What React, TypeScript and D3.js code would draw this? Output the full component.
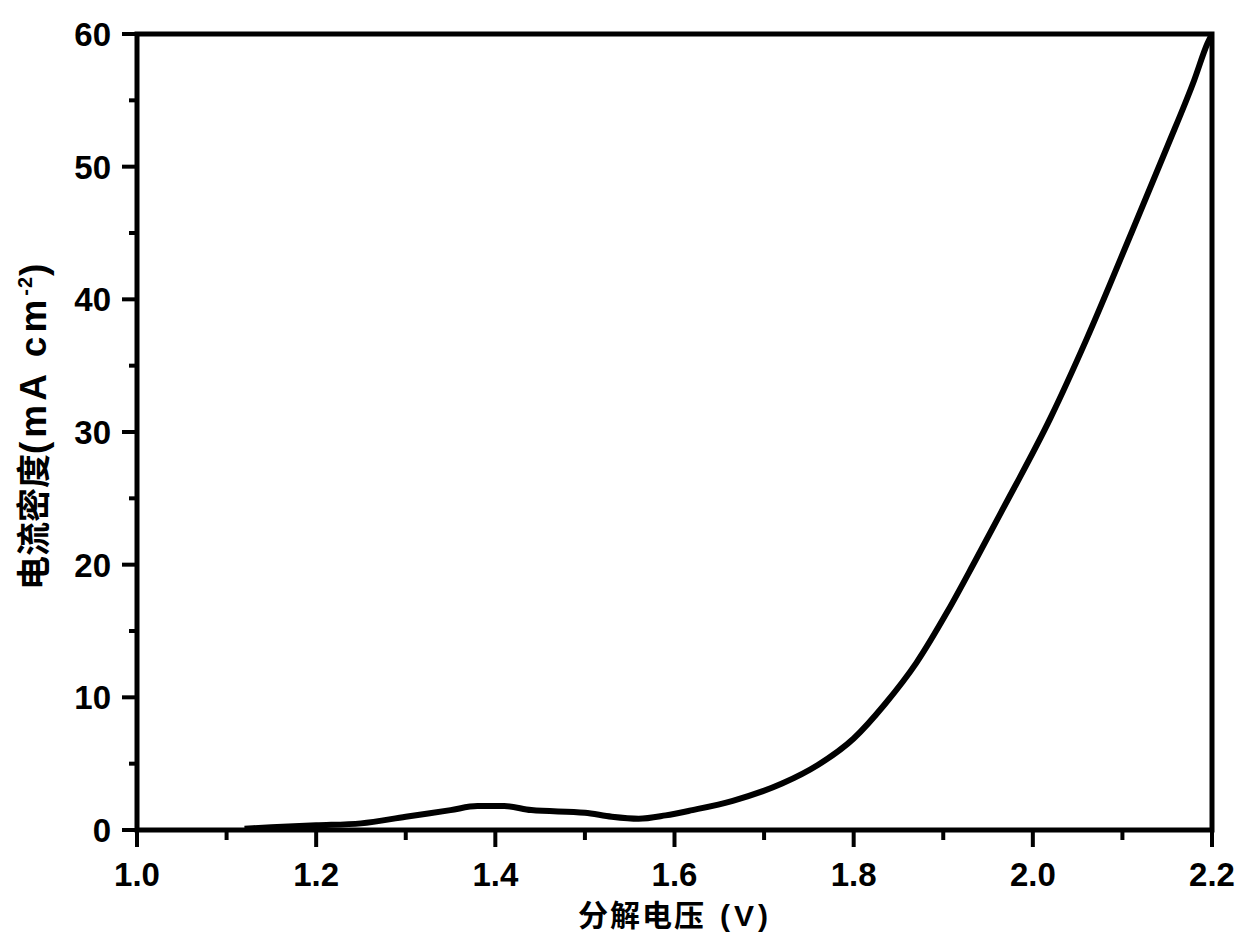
import React from "react";
import * as d3 from "d3";

const voltage = [1.12, 1.15, 1.2, 1.25, 1.3, 1.35, 1.38, 1.41, 1.44, 1.5, 1.53, 1.56, 1.59, 1.62, 1.665, 1.72, 1.76, 1.8, 1.835, 1.87, 1.905, 1.935, 1.965, 2.02, 2.06, 2.11, 2.15, 2.18, 2.195, 2.2];
const current = [0.1, 0.2, 0.35, 0.5, 1.0, 1.5, 1.8, 1.8, 1.5, 1.3, 1.0, 0.85, 1.1, 1.5, 2.2, 3.5, 4.9, 6.9, 9.5, 12.6, 16.5, 20.2, 24.0, 31.1, 37, 45, 51.5, 56.5, 59.3, 60];

const xMajor = [1.0, 1.2, 1.4, 1.6, 1.8, 2.0, 2.2];
const xMinor = [1.1, 1.3, 1.5, 1.7, 1.9, 2.1];
const yMajor = [0, 10, 20, 30, 40, 50, 60];
const yMinor = [5, 15, 25, 35, 45, 55];

const xTitleCJK = "分解电压";
const xTitleUnit = "(V)";
const yTitleCJK = "电流密度";
const yTitleUnit = "(mA cm";
const yTitleSup = "-2";

const W = 1250;
const H = 942;
const left = 137;
const right = 1212;
const top = 34;
const bottom = 830;

export default function App() {
  const x = d3.scaleLinear().domain([1.0, 2.2]).range([left, right]);
  const y = d3.scaleLinear().domain([0, 60]).range([bottom, top]);
  const data = voltage.map((v, i) => [v, current[i]] as [number, number]);
  const line = d3
    .line<[number, number]>()
    .x((d) => x(d[0]))
    .y((d) => y(d[1]))
    .curve(d3.curveMonotoneX);

  const font = "'Liberation Sans', Arial, 'Noto Sans CJK SC', sans-serif";
  const cjk = "'Noto Sans CJK SC', sans-serif";
  const axisW = 5;

  return (
    <svg
      width={W}
      height={H}
      style={{ position: "absolute", left: 0, top: 0, background: "#fff" }}
    >
      <defs>
        <clipPath id="plot">
          <rect x={left} y={top - 2} width={right - left} height={bottom - top + 2} />
        </clipPath>
      </defs>
      <path
        d={line(data) || ""}
        fill="none"
        stroke="#000"
        strokeWidth={6}
        strokeLinejoin="round"
        clipPath="url(#plot)"
      />
      {/* frame */}
      <rect
        x={left}
        y={top}
        width={right - left}
        height={bottom - top}
        fill="none"
        stroke="#000"
        strokeWidth={axisW}
      />
      {/* x ticks */}
      {xMajor.map((v) => (
        <line key={"xM" + v} x1={x(v)} x2={x(v)} y1={bottom} y2={bottom + 17} stroke="#000" strokeWidth={4} />
      ))}
      {xMinor.map((v) => (
        <line key={"xm" + v} x1={x(v)} x2={x(v)} y1={bottom} y2={bottom + 10} stroke="#000" strokeWidth={4} />
      ))}
      {xMajor.map((v) => (
        <text
          key={"xl" + v}
          x={x(v)}
          y={886}
          textAnchor="middle"
          fontFamily={font}
          fontWeight="bold"
          fontSize={33}
        >
          {v.toFixed(1)}
        </text>
      ))}
      {/* y ticks */}
      {yMajor.map((v) => (
        <line key={"yM" + v} x1={left - 15} x2={left} y1={y(v)} y2={y(v)} stroke="#000" strokeWidth={4} />
      ))}
      {yMinor.map((v) => (
        <line key={"ym" + v} x1={left - 8} x2={left} y1={y(v)} y2={y(v)} stroke="#000" strokeWidth={4} />
      ))}
      {yMajor.map((v) => (
        <text
          key={"yl" + v}
          x={111}
          y={y(v) + 12}
          textAnchor="end"
          fontFamily={font}
          fontWeight="bold"
          fontSize={33}
        >
          {v}
        </text>
      ))}
      <text x={578} y={926} textAnchor="start" fontWeight="bold">
        <tspan fontFamily={cjk} fontSize={30} letterSpacing={2}>{xTitleCJK}</tspan>
        <tspan fontFamily={font} fontSize={30} dx={14} letterSpacing={4}>{xTitleUnit}</tspan>
      </text>
      <text
        transform={`translate(46, 590) rotate(-90)`}
        textAnchor="start"
        fontWeight="bold"
      >
        <tspan fontFamily={cjk} fontSize={34}>{yTitleCJK}</tspan>
        <tspan fontFamily={font} fontSize={37} letterSpacing={4}>{yTitleUnit}</tspan>
        <tspan fontFamily={font} fontSize={20} dy={-14} letterSpacing={1}>{yTitleSup}</tspan>
        <tspan fontFamily={font} fontSize={37} dy={14}>)</tspan>
      </text>
    </svg>
  );
}
